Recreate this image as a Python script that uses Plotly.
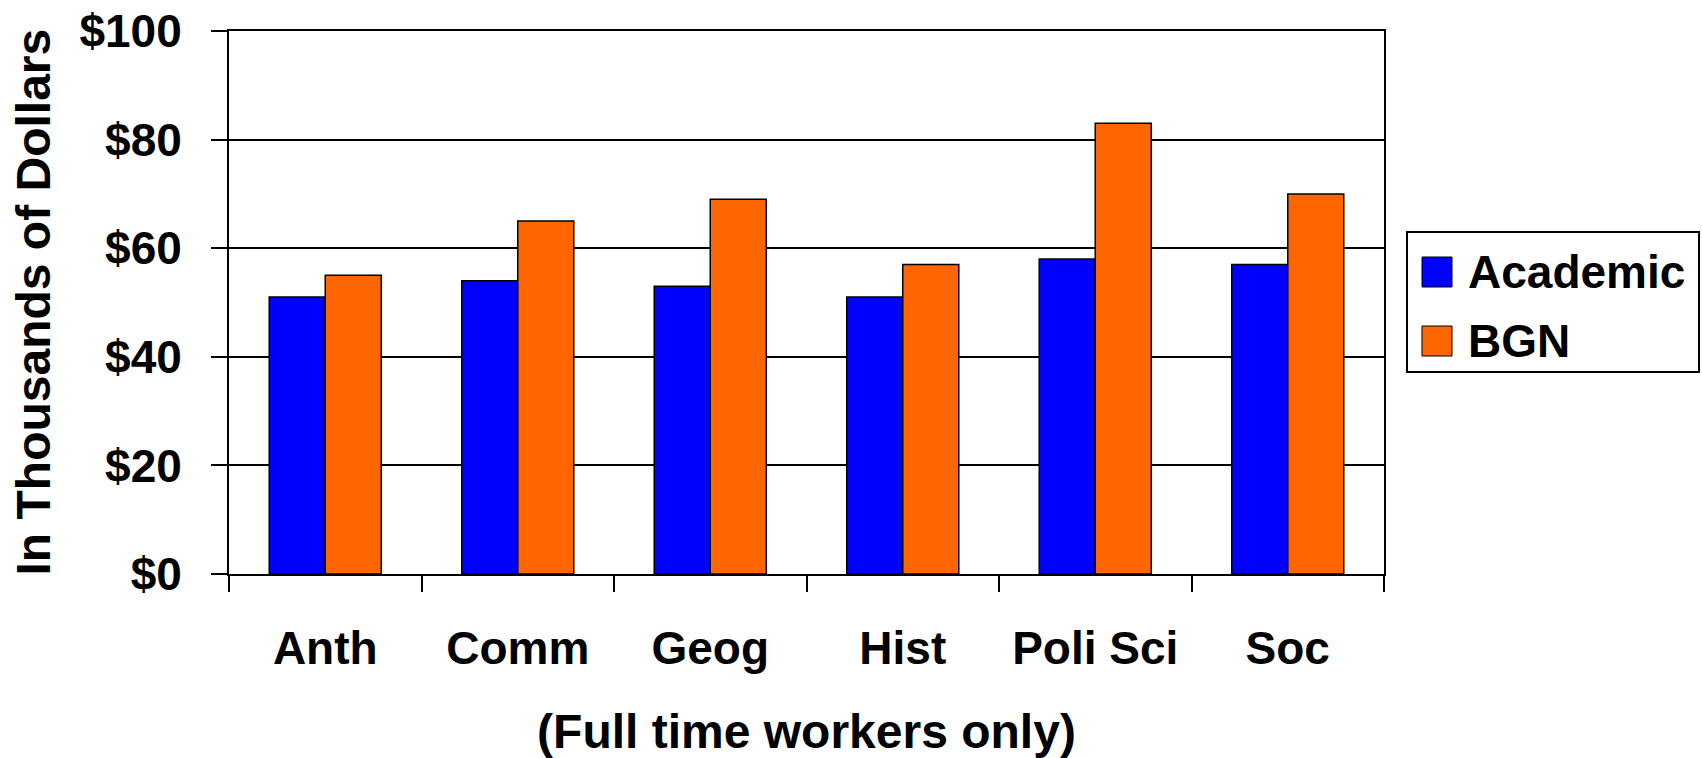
import plotly.graph_objects as go

categories = ["Anth", "Comm", "Geog", "Hist", "Poli Sci", "Soc"]
academic = [51, 54, 53, 51, 58, 57]
bgn = [55, 65, 69, 57, 83, 70]
series_names = ["Academic", "BGN"]
series_colors = ["#0000FF", "#FF6600"]
y_ticks = [0, 20, 40, 60, 80, 100]
y_tick_labels = ["$0", "$20", "$40", "$60", "$80", "$100"]
y_title = "In Thousands of Dollars"
x_title = "(Full time workers only)"

W, H = 1702, 758
L, R, T, B = 229, 1384, 31, 574
FONT = "Liberation Sans, Arial, sans-serif"

fig = go.Figure()
for name, vals, col in zip(series_names, [academic, bgn], series_colors):
    fig.add_trace(go.Bar(
        x=categories, y=vals, name=name,
        marker=dict(color=col, line=dict(color="black", width=1.5)),
        showlegend=False,
    ))

def px2x(px):
    return (px - L) / (R - L)

def px2y(py):
    return (B - py) / (B - T)

shapes = [dict(type="rect", xref="paper", yref="paper",
               x0=px2x(1407), x1=px2x(1699), y0=px2y(372), y1=px2y(232),
               line=dict(color="black", width=2), fillcolor="white")]
annotations = []
rows = [(257, 287, 272), (326, 356, 341)]
for (top, bot, mid), name, col in zip(rows, series_names, series_colors):
    shapes.append(dict(type="rect", xref="paper", yref="paper",
                       x0=px2x(1422), x1=px2x(1452), y0=px2y(bot), y1=px2y(top),
                       line=dict(color="black", width=1), fillcolor=col))
    annotations.append(dict(xref="paper", yref="paper", x=px2x(1466), y=px2y(mid),
                            text=name, showarrow=False, xanchor="left", yanchor="middle",
                            font=dict(family=FONT, size=46, color="black", weight="bold")))

# y-axis title as a rotated annotation for precise placement
annotations.append(dict(xref="paper", yref="paper", x=px2x(33), y=0.5,
                        text=y_title, textangle=-90, showarrow=False,
                        xanchor="center", yanchor="middle",
                        font=dict(family=FONT, size=48, color="black", weight="bold")))

fig.update_layout(
    width=W, height=H,
    margin=dict(l=L, r=W - R, t=T, b=H - B, pad=0, autoexpand=False),
    paper_bgcolor="white", plot_bgcolor="white",
    barmode="group", bargap=0.418, bargroupgap=0,
    font=dict(family=FONT, size=46, color="black", weight="bold"),
    shapes=shapes, annotations=annotations,
    xaxis=dict(
        type="category", tickson="boundaries", ticks="outside", ticklen=16,
        tickwidth=1.5, tickcolor="black", showline=True, linecolor="black",
        linewidth=2, mirror=True, showgrid=False, automargin=False,
        tickfont=dict(family=FONT, size=46, weight="bold"),
        ticklabelstandoff=33,
        title=dict(text=x_title, standoff=55,
                   font=dict(family=FONT, size=48, weight="bold")),
    ),
    yaxis=dict(
        range=[0, 100], tickvals=y_ticks, ticktext=y_tick_labels,
        ticks="outside", ticklen=16, tickwidth=1.5, tickcolor="black",
        showline=True, linecolor="black", linewidth=2, mirror=True,
        showgrid=True, gridcolor="black", gridwidth=2, zeroline=False,
        automargin=False, ticklabeloverflow="allow",
        tickfont=dict(family=FONT, size=46, weight="bold"),
        ticklabelstandoff=20,
    ),
)

fig.write_html(
    "out.html",
    config={"displayModeBar": False},
    post_script="document.body.style.margin='0';document.body.style.overflow='hidden';",
)
